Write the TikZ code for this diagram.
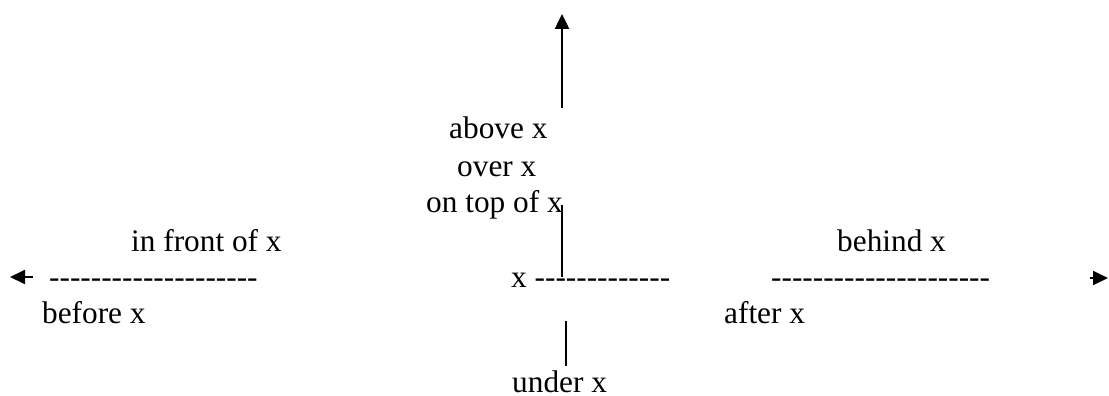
\documentclass[tikz,border=0pt]{standalone}
\usepackage{fontspec}
\setmainfont{Liberation Serif}[Ligatures=TeXOff]
\usetikzlibrary{arrows.meta}
\begin{document}
\begin{tikzpicture}[x=1pt,y=-1pt,
  lbl/.style={anchor=base west, inner sep=0pt, font=\fontsize{31.3}{37}\selectfont},
  ln/.style={line width=2pt},
  arr/.style={line width=2.5pt,-{Triangle[length=15pt,width=14pt]}}]
\useasboundingbox (0,0) rectangle (1109,396);
% texts
\node[lbl] (above)  at (449,139) {above x};
\node[lbl] (over)   at (457,176) {over x};
\node[lbl] (ontop)  at (426,212) {on top of x};
\node[lbl] (front)  at (131,251) {in front of x};
\node[lbl] (behind) at (837,251) {behind x};
\node[lbl] (ldash)  at (49,287)  {--------------------};
\node[lbl] (center) at (511,287) {x -------------};
\node[lbl] (rdash)  at (771,287) {---------------------};
\node[lbl] (before) at (42,323)  {before x};
\node[lbl] (after)  at (724,323) {after x};
\node[lbl] (under)  at (512,392) {under x};
% line end points
\coordinate (upS) at (562,108);
\coordinate (upE) at (562,14);
\coordinate (vtS) at (562,205);
\coordinate (vtE) at (562,277);
\coordinate (vbS) at (566,321);
\coordinate (vbE) at (566,366);
\coordinate (lS) at (33,277);
\coordinate (lE) at (10,277);
\coordinate (rS) at (1090,278);
\coordinate (rE) at (1108,278);
% connectors
\draw[arr] (upS) -- (upE);
\draw[ln] (vtS) -- (vtE);
\draw[ln] (vbS) -- (vbE);
\draw[arr,line width=2pt] (lS) -- (lE);
\draw[arr,line width=2pt] (rS) -- (rE);
\end{tikzpicture}
\end{document}
